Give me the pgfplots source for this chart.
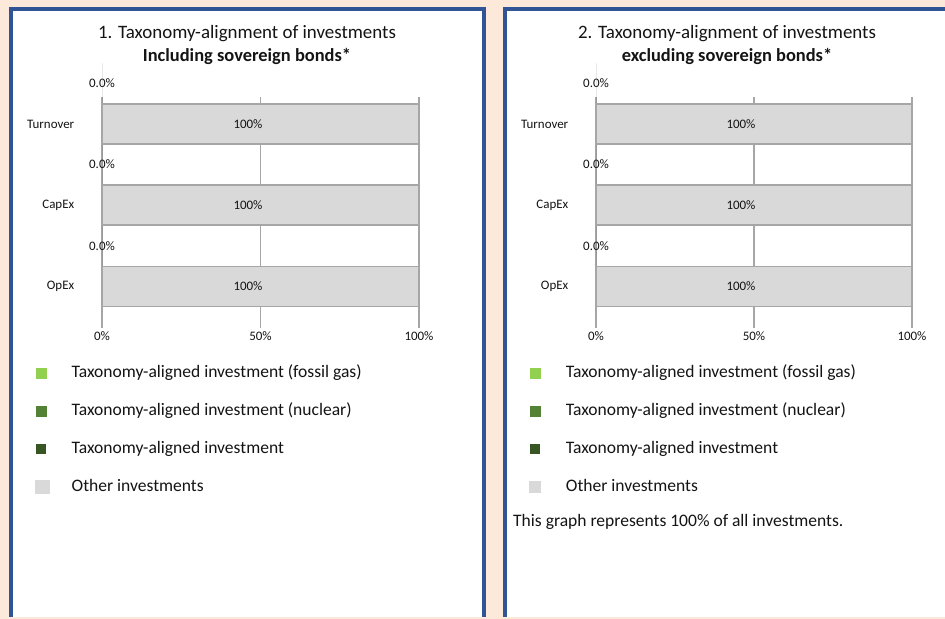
\documentclass[border=0pt]{standalone}
\usepackage{fontspec}
\setmainfont{Carlito}
\usepackage{pgfplots}
\pgfplotsset{compat=1.18}

\definecolor{peach}{RGB}{253,233,217}
\definecolor{frameblue}{RGB}{47,85,151}
\definecolor{gasgreen}{RGB}{146,208,80}
\definecolor{nucgreen}{RGB}{84,130,53}
\definecolor{aligngreen}{RGB}{55,86,35}
\definecolor{othergrey}{RGB}{217,217,217}
\definecolor{edgegrey}{RGB}{166,166,166}
\definecolor{txt}{RGB}{20,20,20}

\newcommand{\ticksize}{\fontsize{13}{15}\selectfont}
\newcommand{\legsize}{\fontsize{17.6}{20}\selectfont}
\newcommand{\titlesize}{\fontsize{19}{22}\selectfont}
\newcommand{\boldsize}{\fontsize{18.5}{22}\selectfont}

\pgfplotsset{
  sq/.style={legend image code/.code={\fill[#1] (0bp,-5bp) rectangle (10bp,5bp); \path (35bp,0bp);}},
  bigsq/.style={legend image code/.code={\fill[#1] (0bp,-6.5bp) rectangle (13bp,6.5bp); \path (35bp,0bp);}},
  taxo/.style={
    scale only axis, width=317bp, height=231bp, anchor=south west,
    xmin=0, xmax=100, ymin=-0.511, ymax=2.332, clip=false,
    xbar, bar shift=0pt, bar width=40bp,
    axis line style={draw=none}, tick style={draw=none},
    xtick={0,50,100}, xticklabels={0\%,50\%,100\%},
    ytick={0,1,2}, yticklabels={OpEx,CapEx,Turnover},
    xmajorgrids, grid style={draw=edgegrey, line width=1.8bp},
    ticklabel style={font=\ticksize, text=txt},
    yticklabel style={xshift=-20bp},
    /pgf/number format/assume math mode=true,
    legend cell align=left,
    legend style={draw=none, fill=none, at={(-0.2114,-0.160)}, anchor=north west,
      inner sep=0pt, row sep=22bp, font=\legsize, text=txt,
      nodes={inner sep=0pt, text height=12bp, text depth=4bp}},
  },
  zerolab/.style={point meta=x,
    nodes near coords={\pgfmathprintnumber[fixed,fixed zerofill,precision=1]{\pgfplotspointmeta}\%},
    every node near coord/.append style={anchor=center, inner sep=0pt, font=\ticksize, text=txt}},
  fulllab/.style={point meta=x,
    nodes near coords={\pgfmathprintnumber{\pgfplotspointmeta}\%},
    every node near coord/.append style={anchor=center, inner sep=0pt, xshift=-171bp, font=\ticksize, text=txt}},
}

\begin{document}
\begin{tikzpicture}[x=1bp,y=1bp]
\fill[peach] (0,0) rectangle (945,619);
\fill[frameblue] (9,2) rectangle (486,612);
\fill[white] (13,2) rectangle (482,608);
\fill[frameblue] (503,2) rectangle (945,612);
\fill[white] (507,2) rectangle (945,608);

\node[font=\titlesize, text=txt] at (247,585) {1. Taxonomy-alignment of investments};
\node[font=\boldsize\bfseries, text=txt] at (247,563) {Including sovereign bonds*};
\node[font=\titlesize, text=txt] at (727,585) {2. Taxonomy-alignment of investments};
\node[font=\boldsize\bfseries, text=txt] at (727,563) {excluding sovereign bonds*};

% 1. including sovereign bonds
\begin{axis}[taxo, at={(102bp,291bp)}]
\addlegendimage{sq=gasgreen}
\addlegendentry{Taxonomy-aligned investment (fossil gas)}
\addlegendimage{sq=nucgreen}
\addlegendentry{Taxonomy-aligned investment (nuclear)}
\addplot[sq=aligngreen, fill=aligngreen, draw=none, bar shift=0pt, zerolab]
  coordinates {(0,0.5) (0,1.5) (0,2.5)};
\addlegendentry{Taxonomy-aligned investment}
\addplot[bigsq=othergrey, fill=othergrey, draw=edgegrey, line width=1.5bp, bar shift=0pt, fulllab]
  coordinates {(100,0) (100,1) (100,2)};
\addlegendentry{Other investments}
\end{axis}

% 2. excluding sovereign bonds
\begin{axis}[taxo, at={(596bp,291bp)}, width=316bp]
\addlegendimage{sq=gasgreen}
\addlegendentry{Taxonomy-aligned investment (fossil gas)}
\addlegendimage{sq=nucgreen}
\addlegendentry{Taxonomy-aligned investment (nuclear)}
\addplot[sq=aligngreen, fill=aligngreen, draw=none, bar shift=0pt, zerolab]
  coordinates {(0,0.5) (0,1.5) (0,2.5)};
\addlegendentry{Taxonomy-aligned investment}
\addplot[sq=othergrey, fill=othergrey, draw=edgegrey, line width=1.5bp, bar shift=0pt, fulllab]
  coordinates {(100,0) (100,1) (100,2)};
\addlegendentry{Other investments}
\end{axis}

\node[anchor=west, inner sep=0pt, font=\legsize, text=txt] at (513,97) {This graph represents 100\% of all investments.};
\end{tikzpicture}
\end{document}
